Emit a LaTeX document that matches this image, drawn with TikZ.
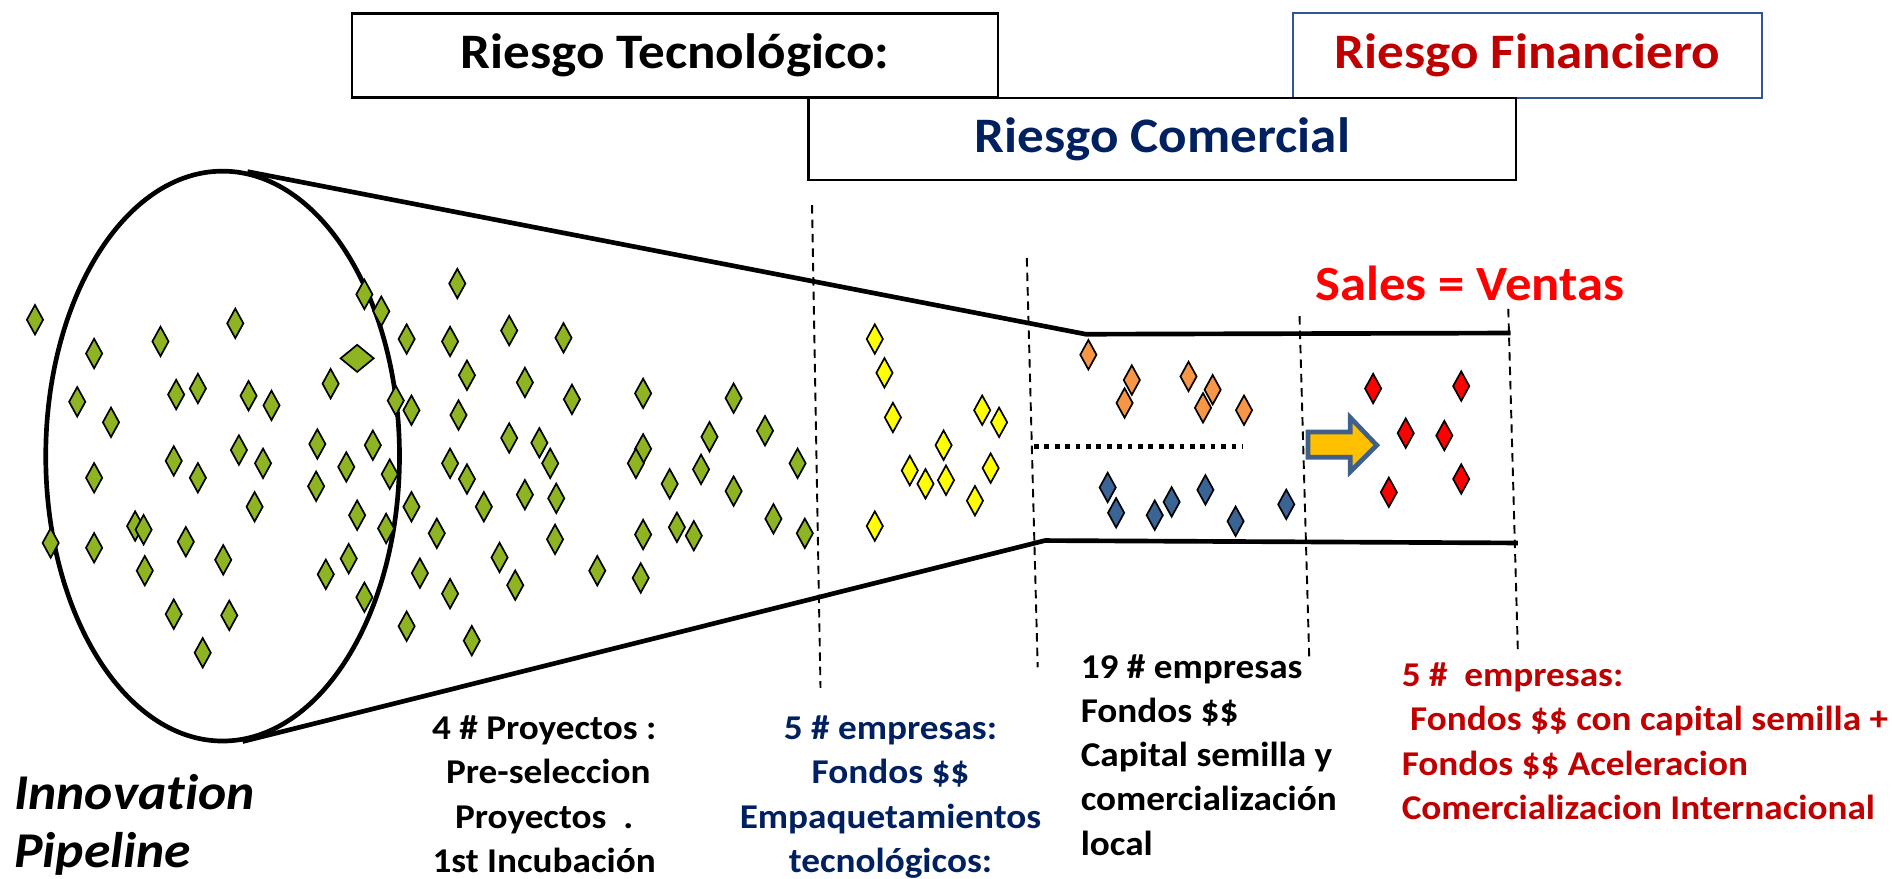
\documentclass[tikz,border=0pt]{standalone}
\usepackage{fontspec}
\setmainfont{Carlito}[FakeStretch=1.07, Ligatures=NoCommon]
\definecolor{leafgreen}{HTML}{8EB521}
\definecolor{seedyellow}{HTML}{FFFF00}
\definecolor{bizorange}{HTML}{F79646}
\definecolor{bizblue}{HTML}{3B6496}
\definecolor{salered}{HTML}{FF0000}
\definecolor{darkred}{HTML}{C00000}
\definecolor{navy}{HTML}{002060}
\definecolor{arrowgold}{HTML}{FFC000}
\definecolor{arrowedge}{HTML}{3F5F8C}
\definecolor{finedge}{HTML}{2F5597}
\usetikzlibrary{shapes.geometric,positioning}

\begin{document}
\begin{tikzpicture}[
  x=0.01cm, y=-0.01cm,
  riskbox/.style={draw=#1, line width=0.6pt, fill=white, minimum height=0.7cm,
    font=\fontsize{11.7}{14}\selectfont\bfseries},
  gem/.style={shape=diamond, draw=black, line width=0.4pt, fill=#1,
    inner sep=0pt, minimum width=0.14cm, minimum height=0.25cm},
  tube/.style={line width=1.1pt, line join=round},
  divider/.style={line width=0.45pt, dash pattern=on 2pt off 1.4pt},
  note/.style={font=\fontsize{8.2}{10.43}\selectfont\bfseries, inner sep=0pt}
]
  \useasboundingbox (0,0) rectangle (1568,728);

  % Risk headers
  \node[riskbox=black, minimum width=5.35cm] (tecbox) at (559.5,46) {Riesgo Tecnológico:};
  \node[riskbox=finedge, line width=0.5pt, minimum width=3.89cm, text=darkred, right=2.42cm of tecbox] (finbox) {Riesgo Financiero};
  \node[riskbox=black, minimum width=5.86cm, minimum height=0.68cm, text=navy, below right=-0.02cm and -1.59cm of tecbox] (combox) {Riesgo Comercial};

  % Pipeline
  \node[draw, ellipse, line width=1.1pt, minimum width=2.93cm, minimum height=4.72cm, inner sep=0pt] (mouth) at (184.5,378) {};
  \coordinate (neckTop) at (900,277);
  \coordinate (neckBot) at (866,448);
  \coordinate (tubeTop) at (1252,276);
  \coordinate (tubeBot) at (1258,450);
  \draw[tube] (mouth.85) -- (neckTop) -- (tubeTop);
  \draw[tube] (mouth.-86) -- (neckBot) -- (tubeBot);

  % Stage dividers
  \draw[divider] (673,170) -- (680,570);
  \draw[divider] (851,214) -- (860,553);
  \draw[divider] (1077,262) -- (1085,544);
  \draw[divider] (1250,256) -- (1258,542);
  \draw[line width=1.1pt, dash pattern=on 1.1pt off 1.35pt] (857,370) -- (1030,370);

  % Projects
  \foreach \px/\py [count=\k] in {29/265, 78/293, 133/283, 195/268, 302/244, 316/258, 337/281,
      379/235, 373/283, 387/311, 64/333, 92/350, 146/327, 164/322, 206/328, 225/336, 274/318,
      328/332, 341/340, 380/344, 78/396, 144/382, 164/396, 198/373, 218/384, 263/368, 262/403,
      287/387, 309/369, 323/393, 373/384, 387/397, 401/420, 211/420, 42/450, 78/454, 112/436,
      119/439, 120/473, 154/449, 185/464, 341/420, 296/427, 320/438, 362/442, 289/463, 270/476,
      302/495, 348/475, 373/492, 144/509, 190/510, 168/541, 337/519, 391/531,
      422/274, 467/280, 435/317, 474/331, 533/326, 608/330, 422/363, 447/367, 456/384, 533/372,
      527/384, 588/362, 634/357, 581/389, 555/401, 661/384, 608/407, 435/410, 461/413, 460/447,
      533/443, 561/437, 575/444, 641/430, 667/442, 414/462, 427/485, 495/473, 531/479}
    \node[gem=leafgreen] (leaf\k) at (\px,\py) {};
  \node[gem=leafgreen, minimum width=0.28cm, minimum height=0.23cm] (leafbig) at (296,297) {};

  \foreach \px/\py [count=\k] in {725/281, 733/309, 740/346, 814/340, 828/350, 782/369,
      754/390, 767/401, 784/398, 821/388, 808/415, 725/436}
    \node[gem=seedyellow] (seed\k) at (\px,\py) {};

  \foreach \px/\py [count=\k] in {902/294, 938/315, 932/334, 985/312, 1005/323, 997/338, 1031/340}
    \node[gem=bizorange] (local\k) at (\px,\py) {};

  \foreach \px/\py [count=\k] in {918/404, 925/425, 957/427, 971/416, 999/406, 1024/432, 1066/418}
    \node[gem=bizblue] (fund\k) at (\px,\py) {};

  \foreach \px/\py [count=\k] in {1138/322, 1211/320, 1165/359, 1197/361, 1151/408, 1211/397}
    \node[gem=salered] (sale\k) at (\px,\py) {};

  % Block arrow
  \draw[line width=1.1pt, draw=arrowedge, fill=arrowgold, line join=miter]
    (1084,358) -- (1119,358) -- (1119,346) -- (1141,369) -- (1119,391) -- (1119,379) -- (1084,379) -- cycle;

  \node[font=\fontsize{11.6}{14}\selectfont\bfseries, text=salered, anchor=base] (sales) at (1218,249) {Sales = Ventas};

  % Stage notes
  \node[note, anchor=base] (proy) at (451,613)
    {\begin{tabular}[t]{@{}c@{}}4 \# Proyectos :\\\ Pre-seleccion\\Proyectos\ \ .\\1st Incubación\end{tabular}};
  \node[note, anchor=base, text=navy] (tecemp) at (738,613)
    {\begin{tabular}[t]{@{}c@{}}5 \# empresas:\\Fondos \$\$\\Empaquetamientos\\tecnológicos:\end{tabular}};
  \node[note, anchor=base west] (comemp) at (895,562)
    {\begin{tabular}[t]{@{}l@{}}19 \# empresas\\Fondos \$\$\\Capital semilla y\\comercialización\\local\end{tabular}};
  \node[note, anchor=base west, text=darkred] (finemp) at (1161,569)
    {\begin{tabular}[t]{@{}l@{}}5 \#\ \ empresas:\\\ Fondos \$\$ con capital semilla +\\Fondos \$\$ Aceleracion\\Comercializacion Internacional\end{tabular}};

  \node[font=\fontsize{11.8}{13.7}\selectfont\bfseries\itshape, anchor=base west, inner sep=0pt] (innov) at (11,671)
    {\begin{tabular}[t]{@{}l@{}}Innovation\\Pipeline\end{tabular}};
\end{tikzpicture}
\end{document}
